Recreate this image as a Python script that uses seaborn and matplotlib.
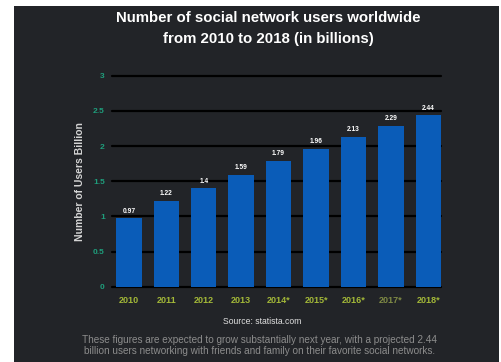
import matplotlib
matplotlib.use("Agg")
import matplotlib.pyplot as plt
import seaborn as sns
import pandas as pd
from matplotlib.patches import Rectangle

years = ["2010", "2011", "2012", "2013", "2014*", "2015*", "2016*", "2017*", "2018*"]
users = [0.97, 1.22, 1.4, 1.59, 1.79, 1.96, 2.13, 2.29, 2.44]
yticks = [0, 0.5, 1, 1.5, 2, 2.5, 3]
ytick_labels = ["0", "0.5", "1", "1.5", "2", "2.5", "3"]

df = pd.DataFrame({"year": years, "users": users})

sns.set_style("dark")
plt.rcParams["font.family"] = ["Liberation Sans", "DejaVu Sans"]

BG = "#222428"
fig = plt.figure(figsize=(5.01, 3.62), dpi=100, facecolor="white")
fig.patches.append(Rectangle((14 / 501, 0), (499 - 14) / 501, 1 - 6 / 362,
                             transform=fig.transFigure, facecolor=BG,
                             edgecolor="none", zorder=-10))
ax = fig.add_axes([111.7 / 501, 1 - 286.7 / 362, (441 - 111.7) / 501, (286.7 - 75.7) / 362])
ax.set_facecolor(BG)

sns.barplot(data=df, x="year", y="users", color="#0a5cb8", width=0.68,
            saturation=1, ax=ax, zorder=3, edgecolor="none", linewidth=0)

ax.set_xlim(-0.46, 8.34)
ax.set_ylim(0, 3)
ax.set_yticks(yticks)
ax.set_yticklabels(ytick_labels)
for y in yticks:
    ax.axhline(y, color="black", lw=1.6, zorder=1, clip_on=False)
ax.grid(False)
for s in ax.spines.values():
    s.set_visible(False)

ax.tick_params(axis="both", length=0)
ax.tick_params(axis="y", pad=5, labelsize=6, labelcolor="#1f9e7c")
ax.tick_params(axis="x", pad=7, labelsize=6.5, labelcolor="#a3b838")
for lab in ax.get_yticklabels():
    lab.set_fontweight("bold")
for lab in ax.get_xticklabels():
    lab.set_fontweight("bold")
    if lab.get_text() == "2017*":
        lab.set_color("#7f8a45")

ax.set_xlabel("")
ax.set_ylabel("Number of Users Billion", fontsize=7.5, fontweight="bold",
              color="#d5d5d5", labelpad=6)

for i, v in enumerate(users):
    ax.text(i, v + 0.05, f"{v:g}", ha="center", va="bottom", fontsize=4.8,
            fontweight="bold", color="white", zorder=4)

fig.text(268 / 501, 1 - 17.5 / 362, "Number of social network users worldwide",
         ha="center", va="center", fontsize=10.8, fontweight="bold", color="white")
fig.text(268 / 501, 1 - 39.5 / 362, "from 2010 to 2018 (in billions)",
         ha="center", va="center", fontsize=10.8, fontweight="bold", color="white")
fig.text(262 / 501, 1 - 322 / 362, "Source: statista.com", ha="center", va="center",
         fontsize=6.2, color="#e0e0e0")
fig.text(260 / 501, 1 - 345.5 / 362,
         "These figures are expected to grow substantially next year, with a projected 2.44\n"
         "billion users networking with friends and family on their favorite social networks.",
         ha="center", va="center", fontsize=7.2, color="#8c8c8c", linespacing=1.1)

fig.savefig("out.png", dpi=100, facecolor="white")
